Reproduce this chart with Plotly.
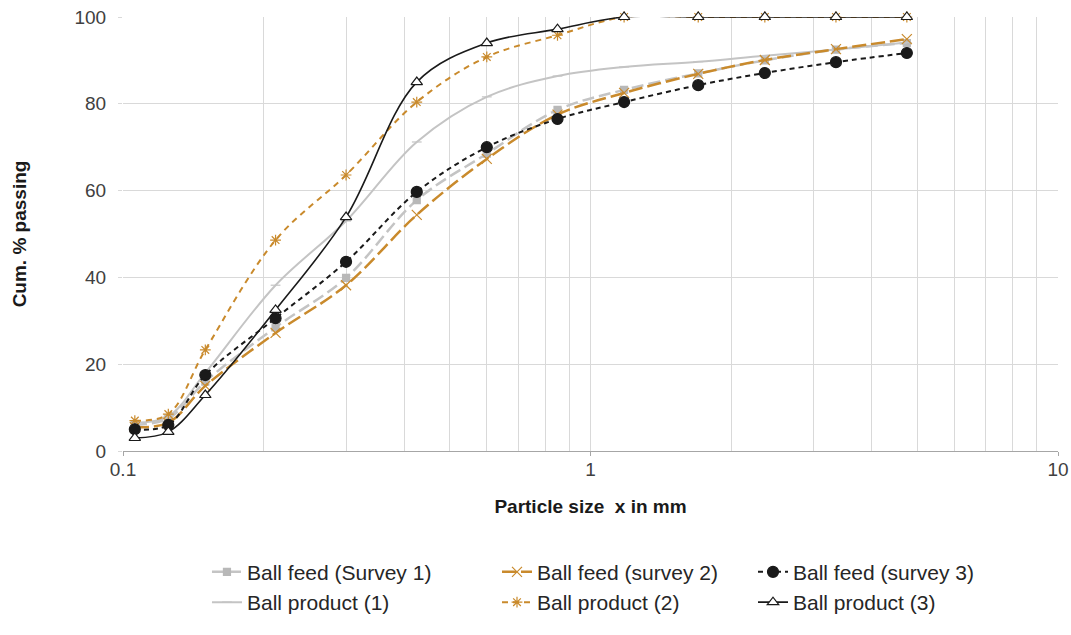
import plotly.graph_objects as go

# Sieve sizes (mm) and cumulative % passing for each stream
sizes = [0.106, 0.125, 0.15, 0.212, 0.3, 0.425, 0.6, 0.85, 1.18, 1.7, 2.36, 3.35, 4.75]

feed_s1 = [6.0, 7.5, 16.0, 28.5, 39.9, 57.8, 68.5, 78.6, 83.2, 87.0, 90.0, 92.5, 94.0]
feed_s2 = [5.5, 6.5, 15.0, 27.2, 38.2, 54.4, 67.3, 77.5, 82.5, 86.9, 90.1, 92.6, 94.9]
feed_s3 = [5.0, 6.0, 17.5, 30.6, 43.6, 59.7, 70.0, 76.5, 80.4, 84.3, 87.1, 89.6, 91.7]
prod_1 = [6.5, 8.0, 18.0, 38.2, 53.0, 71.2, 81.6, 86.4, 88.5, 89.7, 91.1, 92.5, 94.1]
prod_2 = [7.0, 8.5, 23.3, 48.6, 63.6, 80.4, 90.8, 95.8, 100, 100, 100, 100, 100]
prod_3 = [3.0, 4.4, 12.9, 32.5, 53.9, 85.0, 94.0, 97.2, 100, 100, 100, 100, 100]

ORANGE = "#C98A2C"
LGRAY = "#C4C4C4"
FONT = "Liberation Sans, Arial, sans-serif"

fig = go.Figure()

def add(name, y, color, width, dash, symbol, msize, mcolor, mline, legend, group):
    fig.add_trace(go.Scatter(
        x=sizes, y=y, name=name, mode="lines+markers",
        line=dict(color=color, width=width, dash=dash, shape="spline", smoothing=1.0),
        marker=dict(symbol=symbol, size=msize, color=mcolor,
                    line=dict(color=mline, width=1.2)),
        legend=legend, legendgroup=group, cliponaxis=False,
    ))

add("Ball feed (Survey 1)", feed_s1, LGRAY, 2.5, "12px,5px", "square", 7, "#B8B8B8", "#B8B8B8", "legend", "a")
add("Ball product (1)", prod_1, LGRAY, 2, "solid", "line-ew", 7, LGRAY, LGRAY, "legend", "b")
add("Ball feed (survey 2)", feed_s2, ORANGE, 2.5, "14px,5px", "x-thin", 10, ORANGE, ORANGE, "legend2", "c")
add("Ball product (2)", prod_2, ORANGE, 2, "6px,5px", "asterisk", 9, ORANGE, ORANGE, "legend2", "d")
add("Ball feed (survey 3)", feed_s3, "#1A1A1A", 2, "5px,4px", "circle", 11, "#1A1A1A", "#1A1A1A", "legend3", "e")
add("Ball product (3)", prod_3, "#1A1A1A", 1.6, "solid", "triangle-up", 10, "white", "#1A1A1A", "legend3", "f")

minor_vals = [m * 10 ** e for e in (-1, 0) for m in range(2, 10)]

legend_style = dict(
    orientation="v", yanchor="top", xanchor="left", y=-0.232,
    font=dict(family=FONT, size=21, color="#262626"),
    tracegroupgap=0, bgcolor="rgba(0,0,0,0)", itemwidth=30,
)

fig.update_layout(
    width=1071, height=635,
    margin=dict(l=123, r=13, t=17, b=184, autoexpand=False),
    paper_bgcolor="white", plot_bgcolor="white",
    font=dict(family=FONT, size=18, color="#595959"),
    legend=dict(x=0.0898, **legend_style),
    legend2=dict(x=0.40, **legend_style),
    legend3=dict(x=0.6738, **legend_style),
    xaxis=dict(
        type="log", range=[-1, 1], automargin=False,
        tickvals=[0.1, 1, 10], ticktext=["0.1", "1", "10"],
        ticks="outside", ticklen=4, tickcolor="#A6A6A6",
        ticklabelstandoff=-3,
        showgrid=True, gridcolor="#D9D9D9", gridwidth=1,
        minor=dict(tickvals=minor_vals, showgrid=True, gridcolor="#D9D9D9", ticks=""),
        showline=True, linecolor="#A6A6A6", linewidth=1.3,
        zeroline=False,
        tickfont=dict(size=19, color="#404040"),
        title=dict(text="<b>Particle size  x in mm</b>", standoff=20,
                   font=dict(size=19, color="#1A1A1A")),
    ),
    yaxis=dict(
        range=[0, 100], dtick=20, automargin=False,
        ticks="outside", ticklen=4, tickcolor="#D9D9D9",
        ticklabelstandoff=8,
        showgrid=True, gridcolor="#D9D9D9", gridwidth=1,
        showline=False, zeroline=False,
        tickfont=dict(size=19, color="#404040"),
        title=dict(text="<b>Cum. % passing</b>", standoff=42,
                   font=dict(size=19, color="#1A1A1A")),
    ),
)

fig.write_html("out.html")
